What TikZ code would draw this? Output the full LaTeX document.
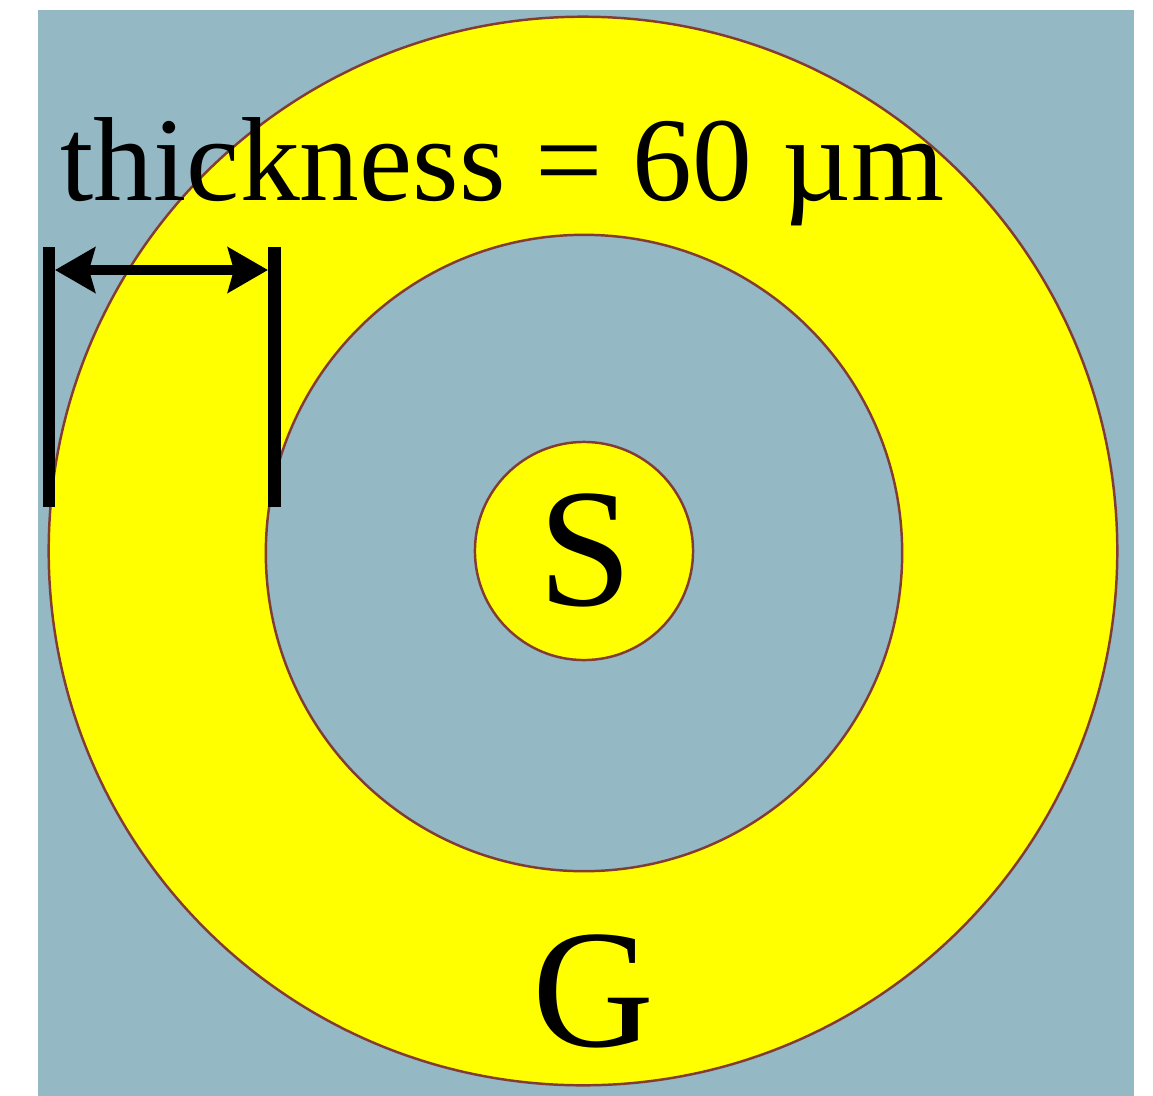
\documentclass[tikz,border=0pt]{standalone}
\usepackage{fontspec}
\setmainfont{Liberation Serif}
\usetikzlibrary{arrows.meta}
\definecolor{bgblue}{RGB}{148,184,196}
\definecolor{ringyellow}{RGB}{255,255,0}
\definecolor{edgered}{RGB}{130,60,50}
\tikzset{
  disc/.style={circle, inner sep=0pt, fill=#1, draw=edgered, line width=0.7pt},
  bigtext/.style={inner sep=0pt, font=\fontsize{34}{34}\selectfont},
  letter/.style={inner sep=0pt, font=\fontsize{48}{48}\selectfont},
  dimbar/.style={line width=3.6pt, black},
  dimarrow/.style={line width=3pt, black, {Stealth[length=4mm,width=4.5mm,inset=0.6mm]}-{Stealth[length=4mm,width=4.5mm,inset=0.6mm]}}
}
\begin{document}
\begin{tikzpicture}[x=0.01cm,y=-0.01cm]
\useasboundingbox (0,0) rectangle (1153,1096);
\fill[white] (0,0) rectangle (1153,1096);
\fill[bgblue] (38,10) rectangle (1134,1096);
\node[disc=ringyellow, minimum size=10.68cm] (outer) at (583,551) {};
\node[disc=bgblue, minimum size=6.36cm] (inner) at (584,553) {};
\node[disc=ringyellow, minimum size=2.18cm] (core) at (584,551) {};
\node[letter] (S) at (585,550) {S};
\node[letter] (G) at (593,991) {G};
\node[bigtext, anchor=base west] (label) at (60,200) {thickness = 60 µm};
\coordinate (lt) at (49,247);
\coordinate (lb) at (49,507);
\coordinate (rt) at (274.5,247);
\coordinate (rb) at (274.5,507);
\coordinate (al) at (55,270);
\coordinate (ar) at (268,270);
\draw[dimbar] (lt) -- (lb);
\draw[dimbar] (rt) -- (rb);
\draw[dimarrow] (al) -- (ar);
\end{tikzpicture}
\end{document}
